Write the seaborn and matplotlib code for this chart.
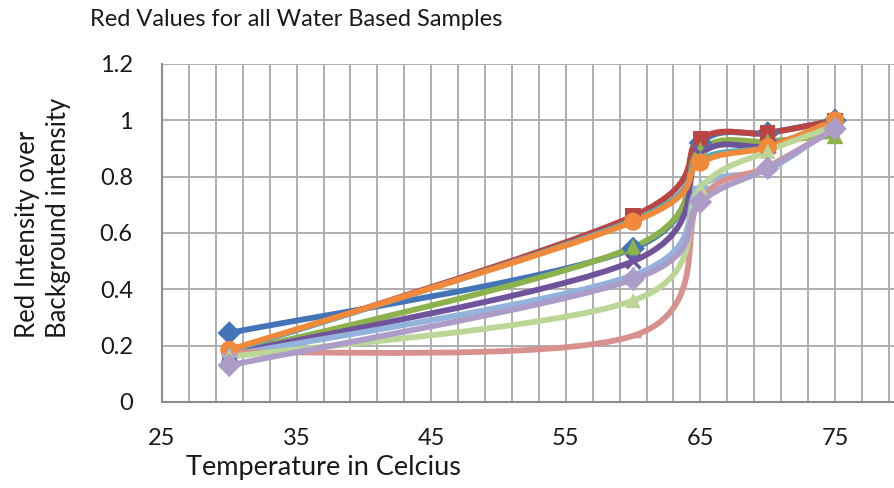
import numpy as np
import pandas as pd
import matplotlib
matplotlib.use("Agg")
import matplotlib.pyplot as plt
from matplotlib.path import Path
from matplotlib.patches import PathPatch
from matplotlib.ticker import FixedLocator
import seaborn as sns

# Temperatures (deg C) at which each sample was measured
temperature = [30, 60, 65, 70, 75]

# Red intensity relative to background intensity, one list per sample
sample_1 = [0.245, 0.545, 0.92, 0.955, 1.00]
sample_2 = [0.18, 0.66, 0.935, 0.955, 1.00]
sample_3 = [0.17, 0.55, 0.895, 0.925, 0.945]
sample_4 = [0.17, 0.50, 0.88, 0.91, 0.99]
sample_5 = [0.18, 0.645, 0.86, 0.905, 1.00]
sample_6 = [0.185, 0.64, 0.85, 0.905, 1.00]
sample_7 = [0.165, 0.45, 0.765, 0.825, 0.98]
sample_8 = [0.175, 0.235, 0.72, 0.835, 0.97]
sample_9 = [0.16, 0.36, 0.76, 0.89, 0.98]
sample_10 = [0.13, 0.435, 0.71, 0.83, 0.97]

x_ticks = [25, 35, 45, 55, 65, 75]
x_grid = list(range(25, 81, 2))
y_ticks = [0, 0.2, 0.4, 0.6, 0.8, 1.0, 1.2]
y_tick_labels = ["0", "0.2", "0.4", "0.6", "0.8", "1", "1.2"]

series = [
    ("Sample 1", sample_1, "#4374B7", "D", 12),
    ("Sample 2", sample_2, "#BA4542", "s", 11),
    ("Sample 3", sample_3, "#8DB24D", "^", 12),
    ("Sample 4", sample_4, "#70539A", "x", 10),
    ("Sample 5", sample_5, "#4BACC6", "*", 13),
    ("Sample 6", sample_6, "#F08A3A", "o", 13),
    ("Sample 7", sample_7, "#94B3DC", "+", 11),
    ("Sample 8", sample_8, "#D99190", "_", 11),
    ("Sample 9", sample_9, "#BCD697", "^", 11),
    ("Sample 10", sample_10, "#AC9CC8", "D", 12),
]

sns.set_style("white")
plt.rcParams["font.family"] = ["Lato", "DejaVu Sans"]

fig = plt.figure(figsize=(8.94, 4.88), dpi=100)
ax = fig.add_axes([162 / 894, 1 - 402 / 488, 1 - 162 / 894, (402 - 64) / 488])


def smooth_path(xs, ys, k=1 / 6):
    """Cubic Bezier path through the points, in the style of spreadsheet smoothed lines."""
    p = np.column_stack([xs, ys]).astype(float)
    n = len(p)
    verts = [p[0]]
    codes = [Path.MOVETO]
    for i in range(n - 1):
        p_prev = p[i - 1] if i > 0 else p[i]
        p_next2 = p[i + 2] if i + 2 < n else p[i + 1]
        c1 = p[i] + (p[i + 1] - p_prev) * k
        c2 = p[i + 1] - (p_next2 - p[i]) * k
        verts += [c1, c2, p[i + 1]]
        codes += [Path.CURVE4] * 3
    return Path(verts, codes)


for name, values, color, marker, msize in series:
    patch = PathPatch(smooth_path(temperature, values), facecolor="none",
                      edgecolor=color, lw=4.2, capstyle="round", joinstyle="round", zorder=3)
    ax.add_patch(patch)
    df = pd.DataFrame({"temperature": temperature, "value": values})
    unfilled = marker in ("x", "+", "_")
    sns.scatterplot(data=df, x="temperature", y="value", ax=ax, marker=marker,
                    s=msize ** 2, color=color, linewidth=2.5 if unfilled else 0,
                    edgecolor=color if unfilled else "none", zorder=4, legend=False)

ax.set_xlim(25, 25 + (894 - 162) / 13.46)
ax.set_ylim(0, 1.2)

ax.xaxis.set_major_locator(FixedLocator(x_ticks))
ax.xaxis.set_minor_locator(FixedLocator(x_grid))
ax.yaxis.set_major_locator(FixedLocator(y_ticks))
ax.set_yticklabels(y_tick_labels)

grid_color = "#AEAEAE"
ax.grid(True, which="both", axis="x", color=grid_color, lw=1.4, zorder=0)
ax.grid(True, which="major", axis="y", color=grid_color, lw=1.4, zorder=0)
ax.set_axisbelow(True)

for side in ("top", "right"):
    ax.spines[side].set_visible(False)
for side in ("left", "bottom"):
    ax.spines[side].set_color("#8C8C8C")
    ax.spines[side].set_linewidth(1.5)

ax.tick_params(axis="both", which="major", direction="out", length=8, width=1.5,
               color="#8C8C8C", labelsize=17, labelcolor="#1A1A1A")
ax.tick_params(axis="y", which="major", pad=13)
ax.tick_params(axis="x", which="minor", length=0)
ax.tick_params(axis="x", which="major", pad=11)

ax.set_xlabel("")
ax.set_ylabel("")

fig.text(90 / 894, 1 - 20 / 488, "Red Values for all Water Based Samples",
         fontsize=17, color="#1A1A1A", ha="left", va="center")
fig.text(323 / 894, 1 - 468 / 488, "Temperature in Celcius",
         fontsize=19.5, color="#1A1A1A", ha="center", va="center")
fig.text(43 / 894, 1 - 338 / 488, "Red Intensity over\nBackground intensity",
         fontsize=18.5, color="#1A1A1A", ha="center", va="bottom", rotation=90,
         multialignment="left", linespacing=1.3)

fig.savefig("out.png", dpi=100, facecolor="white")
